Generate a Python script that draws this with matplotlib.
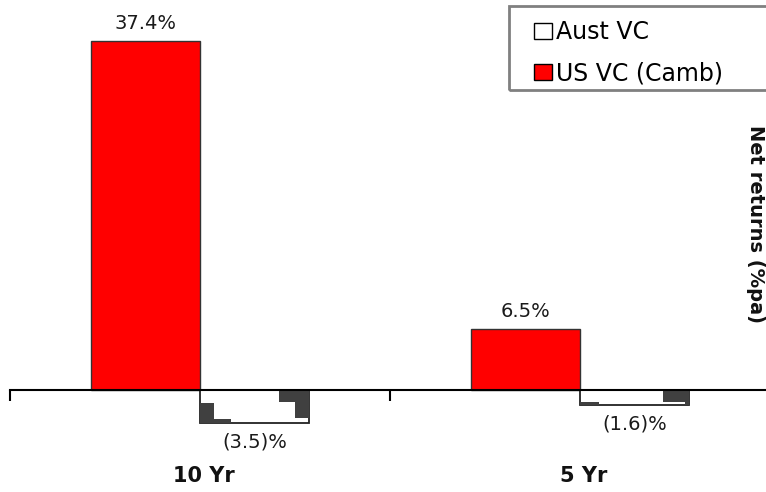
import numpy as np
import matplotlib.pyplot as plt
from matplotlib.patches import Patch, Rectangle
from matplotlib.transforms import blended_transform_factory

periods = ['10 Yr', '5 Yr']
series_names = ['Aust VC', 'US VC (Camb)']
aust_vc = [-3.5, -1.6]
us_vc = [37.4, 6.5]


def fmt(v):
    if v < 0:
        return '(%.1f)%%' % abs(v)
    return '%.1f%%' % v


# dark "shadow" blocks seen inside the white bars (fractions of bar width / depth)
shade_pieces = [
    [(0.0, 0.13, 0.4, 1.0), (0.13, 0.28, 0.9, 1.0), (0.72, 1.0, 0.0, 0.37), (0.87, 1.0, 0.37, 0.86)],
    [(0.0, 0.17, 0.8, 1.0), (0.76, 1.0, 0.0, 0.8), (0.96, 1.0, 0.8, 1.0)],
]

W, H = 766, 492
fig = plt.figure(figsize=(W / 100, H / 100), dpi=100)
ax = fig.add_axes([10 / W, 62 / H, 760 / W, 430 / H])

x = np.arange(len(periods))
bw = 0.287
red_bars = ax.bar(x - bw / 2, us_vc, bw, color='#ff0000', edgecolor='#333333', lw=1, zorder=2)
aus_bars = ax.bar(x + bw / 2, aust_vc, bw, color='white', edgecolor='#222222', lw=1.3, zorder=2)

for b, pieces in zip(aus_bars, shade_pieces):
    bx, bwid, bh = b.get_x(), b.get_width(), b.get_height()
    for fx0, fx1, fy0, fy1 in pieces:
        ax.add_patch(Rectangle((bx + fx0 * bwid, fy0 * bh), (fx1 - fx0) * bwid, (fy1 - fy0) * bh,
                               facecolor='#404040', edgecolor='none', zorder=3))

for b, v in zip(red_bars, us_vc):
    ax.annotate(fmt(v), (b.get_x() + b.get_width() / 2, v), xytext=(0, 12.8),
                textcoords='offset points', ha='center', va='center', fontsize=14, color='#1a1a1a')
for b, v in zip(aus_bars, aust_vc):
    ax.annotate(fmt(v), (b.get_x() + b.get_width() / 2, v), xytext=(0, -13.7),
                textcoords='offset points', ha='center', va='center', fontsize=14, color='#1a1a1a')

ax.set_xlim(-0.5, 1.5)
ax.set_ylim(-4.29, 41.8)
for s in ['top', 'left', 'right']:
    ax.spines[s].set_visible(False)
ax.spines['bottom'].set_position(('data', 0))
ax.spines['bottom'].set_linewidth(1.5)
ax.spines['bottom'].set_zorder(4)
ax.set_yticks([])
ax.set_xticks([-0.5, 0.5, 1.5])
ax.tick_params(axis='x', length=8, width=1.5, direction='out', labelbottom=False)

trans = blended_transform_factory(ax.transData, fig.transFigure)
for xi, p in zip(x, periods):
    ax.text(xi + 0.01, 16 / H, p, transform=trans, ha='center', va='center',
            fontsize=15, fontweight='bold', color='#111111')

fig.text(755 / W, 1 - 224 / H, 'Net returns (%pa)', rotation=270, ha='center', va='center',
         fontsize=14, fontweight='bold', color='#111111')

handles = [Patch(facecolor='white', edgecolor='black', lw=1),
           Patch(facecolor='#ff0000', edgecolor='black', lw=1)]
fs = 17
fig.legend(handles, series_names, loc='upper left', bbox_to_anchor=(534 / W, 1 - 20 / H),
           frameon=False, fontsize=fs, borderpad=0, borderaxespad=0,
           handlelength=0.76, handleheight=0.68, handletextpad=0.17, labelspacing=0.73)
fig.patches.append(Rectangle((509 / W, 1 - 90 / H), 280 / W, 84 / H, fill=False,
                             edgecolor='#808080', lw=2, transform=fig.transFigure, figure=fig))

fig.savefig('out.png', dpi=100)
